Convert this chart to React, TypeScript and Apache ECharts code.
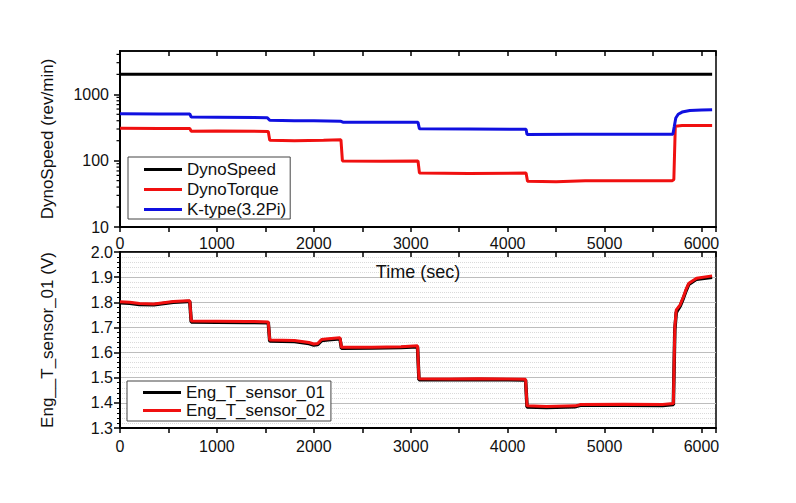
import React, { useEffect, useRef } from 'react';
import * as echarts from 'echarts';

// ---- data (time in sec, value) ----
const dynoSpeed: number[][] = [[0, 2000], [6110, 2000]];

const dynoTorque: number[][] = [
  [0, 308], [400, 306], [720, 305], [735, 278], [1000, 280], [1530, 276],
  [1545, 203], [1800, 200], [2100, 203], [2280, 206], [2295, 99], [2700, 98],
  [3075, 99], [3090, 65], [3600, 64], [4190, 65], [4205, 49], [4500, 48],
  [4800, 50], [5700, 50], [5715, 52], [5730, 330], [5800, 338], [6110, 338],
];

const kType: number[][] = [
  [0, 510], [400, 505], [720, 505], [735, 455], [1000, 452], [1520, 445],
  [1545, 405], [1800, 400], [2000, 398], [2280, 392], [2300, 380], [2700, 378],
  [3075, 378], [3090, 302], [3600, 300], [4190, 297], [4200, 248], [4700, 250],
  [5705, 250], [5720, 330], [5735, 440], [5760, 500], [5800, 540], [5880, 572],
  [6000, 582], [6110, 588],
];

const sensor02: number[][] = [
  [0, 1.802], [100, 1.8], [200, 1.795], [350, 1.793], [450, 1.798], [550, 1.803],
  [700, 1.806], [720, 1.806], [735, 1.726], [1000, 1.725], [1300, 1.724], [1530, 1.722],
  [1545, 1.65], [1800, 1.648], [1950, 1.64], [2000, 1.634], [2040, 1.636], [2080, 1.652],
  [2150, 1.655], [2270, 1.659], [2285, 1.621], [2600, 1.621], [2900, 1.623], [3070, 1.627],
  [3085, 1.496], [3400, 1.495], [3700, 1.496], [4000, 1.495], [4185, 1.494], [4200, 1.388],
  [4400, 1.386], [4700, 1.388], [4750, 1.393], [5200, 1.394], [5600, 1.393], [5710, 1.397],
  [5725, 1.7], [5740, 1.77], [5780, 1.79], [5815, 1.823], [5840, 1.85], [5870, 1.876],
  [5950, 1.896], [6110, 1.905],
];

const sensor01: number[][] = [
  [0, 1.798], [100, 1.796], [200, 1.791], [350, 1.79], [450, 1.795], [550, 1.8],
  [700, 1.803], [720, 1.803], [735, 1.722], [1000, 1.721], [1300, 1.72], [1530, 1.719],
  [1545, 1.646], [1800, 1.644], [1950, 1.636], [2000, 1.63], [2040, 1.632], [2080, 1.648],
  [2150, 1.651], [2270, 1.655], [2285, 1.617], [2600, 1.618], [2900, 1.62], [3070, 1.623],
  [3085, 1.492], [3400, 1.492], [3700, 1.493], [4000, 1.492], [4185, 1.491], [4200, 1.384],
  [4400, 1.382], [4700, 1.385], [4750, 1.39], [5200, 1.39], [5600, 1.389], [5710, 1.393],
  [5725, 1.69], [5740, 1.76], [5780, 1.785], [5815, 1.818], [5840, 1.845], [5870, 1.872],
  [5950, 1.892], [6110, 1.9],
];

const logMajorLabels = [10, 100, 1000];
const logMinorTicks = [20, 30, 40, 50, 60, 70, 80, 90, 200, 300, 400, 500, 600, 700, 800, 900, 2000, 3000, 4000];

const topLegend = ['DynoSpeed', 'DynoTorque', 'K-type(3.2Pi)'];
const bottomLegend = ['Eng_T_sensor_01', 'Eng_T_sensor_02'];

const FONT = 'Liberation Sans, Arial, sans-serif';

export default function App() {
  const ref = useRef<HTMLDivElement>(null);
  useEffect(() => {
    if (!ref.current) return;
    const chart = echarts.init(ref.current, null, { renderer: 'svg' });
    const axisLine = { show: true, lineStyle: { color: '#000', width: 2 } };
    const xCommon = {
      type: 'value', min: 0, max: 6150, interval: 1000,
      splitLine: { show: false },
    };
    const xLabel = (v: number) => String(Math.round(v));
    chart.setOption({
      animation: false,
      backgroundColor: '#fff',
      textStyle: { fontFamily: FONT },
      grid: [
        { left: 120, top: 51, width: 596, height: 176, show: true, borderColor: '#000', borderWidth: 1.5 },
        { left: 120, top: 252, width: 596, height: 176, show: true, borderColor: '#000', borderWidth: 1.5 },
      ],
      legend: [
        {
          data: topLegend, left: 128, top: 157, orient: 'vertical', icon: 'rect',
          itemWidth: 38, itemHeight: 3, itemGap: 3, padding: [4, 4, 1, 16],
          borderColor: '#444', borderWidth: 1, backgroundColor: '#fff',
          textStyle: { fontSize: 17, color: '#111', fontFamily: FONT },
        },
        {
          data: bottomLegend, left: 127, top: 381, orient: 'vertical', icon: 'rect',
          itemWidth: 38, itemHeight: 3, itemGap: 1, padding: [3, 6, 2, 16],
          borderColor: '#444', borderWidth: 1, backgroundColor: '#fff',
          textStyle: { fontSize: 17, color: '#111', fontFamily: FONT },
        },
      ],
      xAxis: [
        {
          ...xCommon, gridIndex: 0, position: 'bottom',
          axisLine,
          axisTick: { show: true, length: 5, lineStyle: { color: '#000', width: 1.5 } },
          minorTick: { show: true, splitNumber: 2, length: 5, lineStyle: { color: '#000', width: 1.5 } },
          axisLabel: { margin: 8, fontSize: 16, color: '#111', showMaxLabel: false, fontFamily: FONT, formatter: xLabel },
          name: 'Time (sec)', nameLocation: 'middle', nameGap: 36,
          nameTextStyle: { fontSize: 18, color: '#111', fontFamily: FONT },
        },
        {
          ...xCommon, gridIndex: 0, position: 'top',
          axisLine: { show: true, lineStyle: { color: '#000', width: 1.5 } },
          axisTick: { show: true, inside: true, length: 5, lineStyle: { color: '#000', width: 1.5 } },
          minorTick: { show: true, splitNumber: 2, length: 5, lineStyle: { color: '#000', width: 1.5 } },
          axisLabel: { show: false },
        },
        {
          ...xCommon, gridIndex: 1, position: 'bottom',
          axisLine,
          axisTick: { show: true, length: 5, lineStyle: { color: '#000', width: 1.5 } },
          minorTick: { show: true, splitNumber: 2, length: 5, lineStyle: { color: '#000', width: 1.5 } },
          axisLabel: { margin: 10, fontSize: 16, color: '#111', showMaxLabel: false, fontFamily: FONT, formatter: xLabel },
        },
        {
          ...xCommon, gridIndex: 1, position: 'top',
          axisLine: { show: true, lineStyle: { color: '#000', width: 1.5 } },
          axisTick: { show: true, inside: true, length: 5, lineStyle: { color: '#000', width: 1.5 } },
          minorTick: { show: true, splitNumber: 2, length: 5, lineStyle: { color: '#000', width: 1.5 } },
          axisLabel: { show: false },
        },
      ],
      yAxis: [
        {
          gridIndex: 0, type: 'log', logBase: 10, min: 10, max: 4500,
          axisLine,
          axisTick: { show: true, length: 6, lineStyle: { color: '#000', width: 1.5 } },
          splitLine: { show: false },
          axisLabel: {
            margin: 11, fontSize: 16, color: '#111', fontFamily: FONT,
            showMaxLabel: false,
            formatter: (v: number) => {
              const r = Math.round(v);
              return logMajorLabels.includes(r) ? String(r) : '';
            },
          },
          name: 'DynoSpeed (rev/min)', nameLocation: 'middle', nameGap: 64,
          nameTextStyle: { fontSize: 17, color: '#111', fontFamily: FONT },
        },
        {
          gridIndex: 1, type: 'value', min: 1.3, max: 2.0, interval: 0.1,
          axisLine,
          axisTick: { show: true, length: 6, lineStyle: { color: '#000', width: 1.5 } },
          minorTick: { show: true, splitNumber: 5, length: 3, lineStyle: { color: '#000', width: 1 } },
          splitLine: { show: true, lineStyle: { color: '#bdbdbd', width: 1 } },
          minorSplitLine: { show: true, lineStyle: { color: '#dadada', width: 1, type: 'dotted' } },
          axisLabel: {
            margin: 7, fontSize: 16, color: '#111', fontFamily: FONT,
            formatter: (v: number) => v.toFixed(1),
          },
          name: 'Eng__T_sensor_01 (V)', nameLocation: 'middle', nameGap: 64,
          nameTextStyle: { fontSize: 17, color: '#111', fontFamily: FONT },
        },
      ],
      series: [
        {
          name: 'DynoSpeed', type: 'line', xAxisIndex: 0, yAxisIndex: 0, data: dynoSpeed,
          showSymbol: false, lineStyle: { color: '#000', width: 3 }, itemStyle: { color: '#000' },
        },
        {
          name: 'DynoTorque', type: 'line', xAxisIndex: 0, yAxisIndex: 0, data: dynoTorque,
          showSymbol: false, lineStyle: { color: '#f01010', width: 3 }, itemStyle: { color: '#f01010' },
        },
        {
          name: 'K-type(3.2Pi)', type: 'line', xAxisIndex: 0, yAxisIndex: 0, data: kType,
          showSymbol: false, lineStyle: { color: '#1010e0', width: 3 }, itemStyle: { color: '#1010e0' },
        },
        {
          name: 'Eng_T_sensor_01', type: 'line', xAxisIndex: 2, yAxisIndex: 1, data: sensor01,
          showSymbol: false, lineStyle: { color: '#000', width: 3.5 }, itemStyle: { color: '#000' },
        },
        {
          name: 'Eng_T_sensor_02', type: 'line', xAxisIndex: 2, yAxisIndex: 1, data: sensor02,
          showSymbol: false, lineStyle: { color: '#f01010', width: 3 }, itemStyle: { color: '#f01010' },
        },
        {
          type: 'custom', xAxisIndex: 0, yAxisIndex: 0, silent: true, clip: false, z: 10,
          data: logMinorTicks.map((v) => [0, v]),
          renderItem: (_p: any, api: any) => {
            const pt = api.coord([0, api.value(1)]);
            return {
              type: 'line',
              shape: { x1: pt[0] - 3.5, y1: pt[1], x2: pt[0], y2: pt[1] },
              style: { stroke: '#000', lineWidth: 1.2 },
            };
          },
        },
      ],
    });
    return () => chart.dispose();
  }, []);
  return (
    <div
      ref={ref}
      style={{ position: 'absolute', left: 0, top: 0, width: 796, height: 503, background: '#fff' }}
    />
  );
}
